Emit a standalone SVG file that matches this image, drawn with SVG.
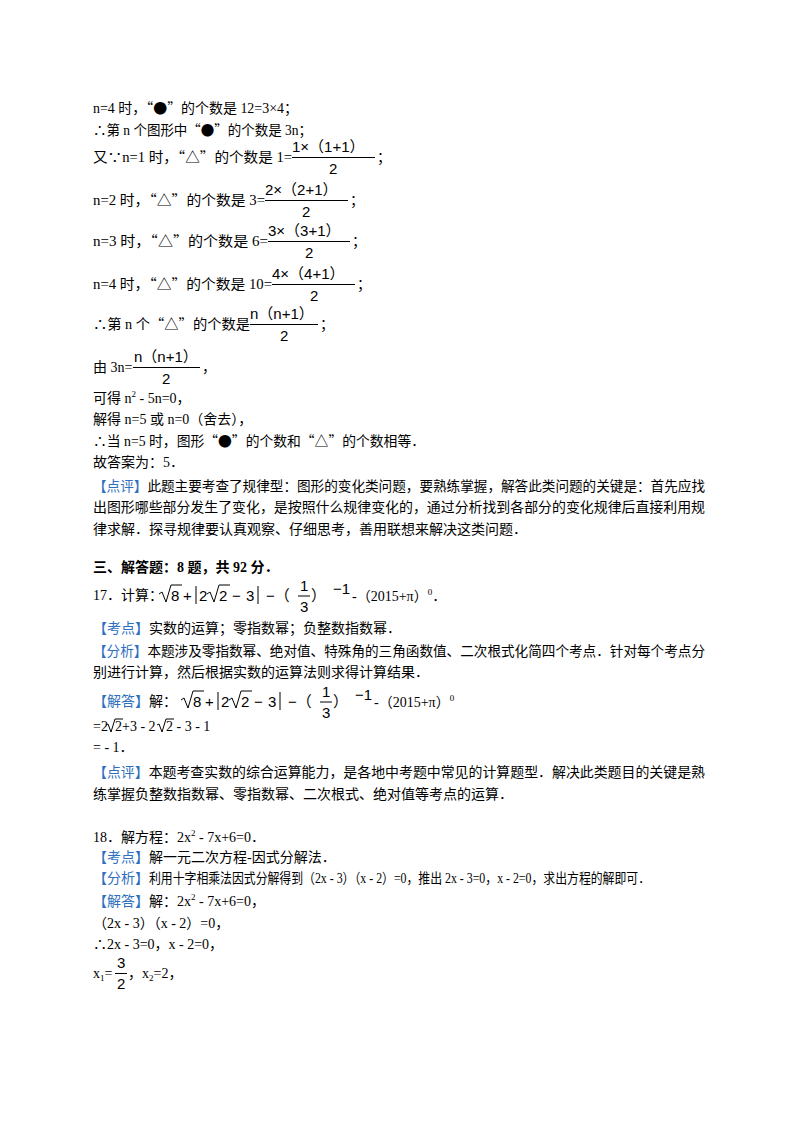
<svg xmlns="http://www.w3.org/2000/svg" width="800" height="1132" viewBox="0 0 800 1132">
<style>
text{font-family:"Liberation Serif","Noto Sans CJK SC",serif;font-size:14px;fill:#000}
.q{font-family:"Noto Sans CJK SC",sans-serif}
.m{font-family:"Liberation Sans","Noto Sans CJK SC",sans-serif;font-size:15px}
.b{fill:#2e6fc0}
.bold{font-weight:bold}
.sup{font-size:9px}
line,path{stroke:#000;stroke-width:1;fill:none}
</style>
<rect width="800" height="1132" fill="#fff"/>
<text x="93" y="113" textLength="205" lengthAdjust="spacingAndGlyphs">n=4 时，<tspan class="q">“●”</tspan>的个数是 12=3×4；</text>
<text x="93" y="135" textLength="219" lengthAdjust="spacingAndGlyphs">∴第 n 个图形中<tspan class="q">“●”</tspan>的个数是 3n；</text>
<text x="93" y="162" textLength="199" lengthAdjust="spacingAndGlyphs">又∵n=1 时，<tspan class="q">“△”</tspan>的个数是 1=</text>
<text class="m" x="292" y="152">1×（1+1）</text><line x1="292" y1="157.5" x2="375" y2="157.5"/><text class="m" x="329" y="174">2</text><text x="377" y="162">；</text>
<text x="93" y="205" textLength="172" lengthAdjust="spacingAndGlyphs">n=2 时，<tspan class="q">“△”</tspan>的个数是 3=</text>
<text class="m" x="265" y="195">2×（2+1）</text><line x1="265" y1="200.5" x2="348" y2="200.5"/><text class="m" x="302" y="217">2</text><text x="350" y="205">；</text>
<text x="93" y="246" textLength="175" lengthAdjust="spacingAndGlyphs">n=3 时，<tspan class="q">“△”</tspan>的个数是 6=</text>
<text class="m" x="268" y="236">3×（3+1）</text><line x1="268" y1="241.5" x2="350" y2="241.5"/><text class="m" x="305" y="258">2</text><text x="352" y="246">；</text>
<text x="93" y="289" textLength="179" lengthAdjust="spacingAndGlyphs">n=4 时，<tspan class="q">“△”</tspan>的个数是 10=</text>
<text class="m" x="272" y="279">4×（4+1）</text><line x1="272" y1="284.5" x2="355" y2="284.5"/><text class="m" x="310" y="301">2</text><text x="357" y="289">；</text>
<text x="93" y="329" textLength="157" lengthAdjust="spacingAndGlyphs">∴第 n 个<tspan class="q">“△”</tspan>的个数是</text>
<text class="m" x="250" y="319">n（n+1）</text><line x1="250" y1="324.5" x2="318" y2="324.5"/><text class="m" x="280" y="341">2</text><text x="320" y="329">；</text>
<text x="93" y="372">由 3n=</text>
<text class="m" x="134" y="362">n（n+1）</text><line x1="133" y1="367.5" x2="200" y2="367.5"/><text class="m" x="162" y="384">2</text><text x="202" y="372">，</text>
<text x="93" y="403">可得 n<tspan class="sup" dy="-6">2</tspan><tspan dy="6"> - 5n=0，</tspan></text>
<text x="93" y="424">解得 n=5 或 n=0（舍去），</text>
<text x="93" y="446" textLength="332" lengthAdjust="spacingAndGlyphs">∴当 n=5 时，图形<tspan class="q">“●”</tspan>的个数和<tspan class="q">“△”</tspan>的个数相等．</text>
<text x="93" y="467">故答案为：5．</text>
<text x="93" y="491" textLength="612" lengthAdjust="spacingAndGlyphs"><tspan class="b">【点评】</tspan>此题主要考查了规律型：图形的变化类问题，要熟练掌握，解答此类问题的关键是：首先应找</text>
<text x="93" y="512" textLength="612" lengthAdjust="spacingAndGlyphs">出图形哪些部分发生了变化，是按照什么规律变化的，通过分析找到各部分的变化规律后直接利用规</text>
<text x="93" y="534">律求解．探寻规律要认真观察、仔细思考，善用联想来解决这类问题．</text>
<text class="bold" x="93" y="572">三、解答题：8 题，共 92 分．</text>
<text x="93" y="600">17．计算：</text>
<g id="expr1">
<path d="M159,594 l3,-2 l4,10 l5,-17 h11"/><text class="m" x="171" y="601">8</text><text class="m" x="183" y="601">+</text>
<line x1="196" y1="586" x2="196" y2="604"/><text class="m" x="199" y="601">2</text>
<path d="M207,594 l3,-2 l4,10 l5,-17 h11"/><text class="m" x="219" y="601">2</text><text class="m" x="232" y="601">−</text><text class="m" x="246" y="601">3</text>
<line x1="258" y1="586" x2="258" y2="604"/><text class="m" x="266" y="601">−（</text><text class="m" x="300" y="591">1</text><line x1="298" y1="596" x2="310" y2="596"/><text class="m" x="300" y="612">3</text><text class="m" x="311" y="601">）</text>
<text class="m" x="333" y="594">−1</text><text x="352" y="601"> -（2015+π）<tspan class="sup" dy="-6">0</tspan><tspan dy="6">．</tspan></text>
</g>
<text x="93" y="633"><tspan class="b">【考点】</tspan>实数的运算；零指数幂；负整数指数幂．</text>
<text x="93" y="656" textLength="612" lengthAdjust="spacingAndGlyphs"><tspan class="b">【分析】</tspan>本题涉及零指数幂、绝对值、特殊角的三角函数值、二次根式化简四个考点．针对每个考点分</text>
<text x="93" y="677">别进行计算，然后根据实数的运算法则求得计算结果．</text>
<text x="93" y="706"><tspan class="b">【解答】</tspan>解：</text>
<g id="expr2">
<path d="M181,700 l3,-2 l4,10 l5,-17 h11"/><text class="m" x="193" y="707">8</text><text class="m" x="205" y="707">+</text>
<line x1="218" y1="692" x2="218" y2="710"/><text class="m" x="221" y="707">2</text>
<path d="M229,700 l3,-2 l4,10 l5,-17 h11"/><text class="m" x="241" y="707">2</text><text class="m" x="254" y="707">−</text><text class="m" x="268" y="707">3</text>
<line x1="280" y1="692" x2="280" y2="710"/><text class="m" x="288" y="707">−（</text><text class="m" x="322" y="697">1</text><line x1="320" y1="702" x2="332" y2="702"/><text class="m" x="322" y="718">3</text><text class="m" x="333" y="707">）</text>
<text class="m" x="355" y="700">−1</text><text x="374" y="707"> -（2015+π）<tspan class="sup" dy="-6">0</tspan></text>
</g>
<text x="93" y="731">=2</text><path d="M106,725 l2,-1 l3,8 l4,-13 h8"/><text x="115" y="731">2+3 - 2</text><path d="M157,725 l2,-1 l3,8 l4,-13 h8"/><text x="166" y="731">2 - 3 - 1</text>
<text x="93" y="752">= - 1．</text>
<text x="93" y="777" textLength="612" lengthAdjust="spacingAndGlyphs"><tspan class="b">【点评】</tspan>本题考查实数的综合运算能力，是各地中考题中常见的计算题型．解决此类题目的关键是熟</text>
<text x="93" y="799">练掌握负整数指数幂、零指数幂、二次根式、绝对值等考点的运算．</text>
<text x="93" y="842">18．解方程：2x<tspan class="sup" dy="-6">2</tspan><tspan dy="6"> - 7x+6=0．</tspan></text>
<text x="93" y="862"><tspan class="b">【考点】</tspan>解一元二次方程-因式分解法．</text>
<text class="b" x="93" y="883">【分析】</text>
<text x="149" y="883" textLength="501" lengthAdjust="spacingAndGlyphs">利用十字相乘法因式分解得到（2x - 3）（x - 2）=0，推出 2x - 3=0，x - 2=0，求出方程的解即可．</text>
<text x="93" y="906"><tspan class="b">【解答】</tspan>解：2x<tspan class="sup" dy="-6">2</tspan><tspan dy="6"> - 7x+6=0，</tspan></text>
<text x="93" y="928">（2x - 3）（x - 2）=0，</text>
<text x="93" y="949">∴2x - 3=0，x - 2=0，</text>
<text x="93" y="978">x<tspan class="sup" dy="3">1</tspan><tspan dy="-3">=</tspan></text>
<text class="m" x="117" y="968">3</text><line x1="115" y1="973.5" x2="127" y2="973.5"/><text class="m" x="117" y="989">2</text>
<text x="128" y="978">，x<tspan class="sup" dy="3">2</tspan><tspan dy="-3">=2，</tspan></text>
</svg>
